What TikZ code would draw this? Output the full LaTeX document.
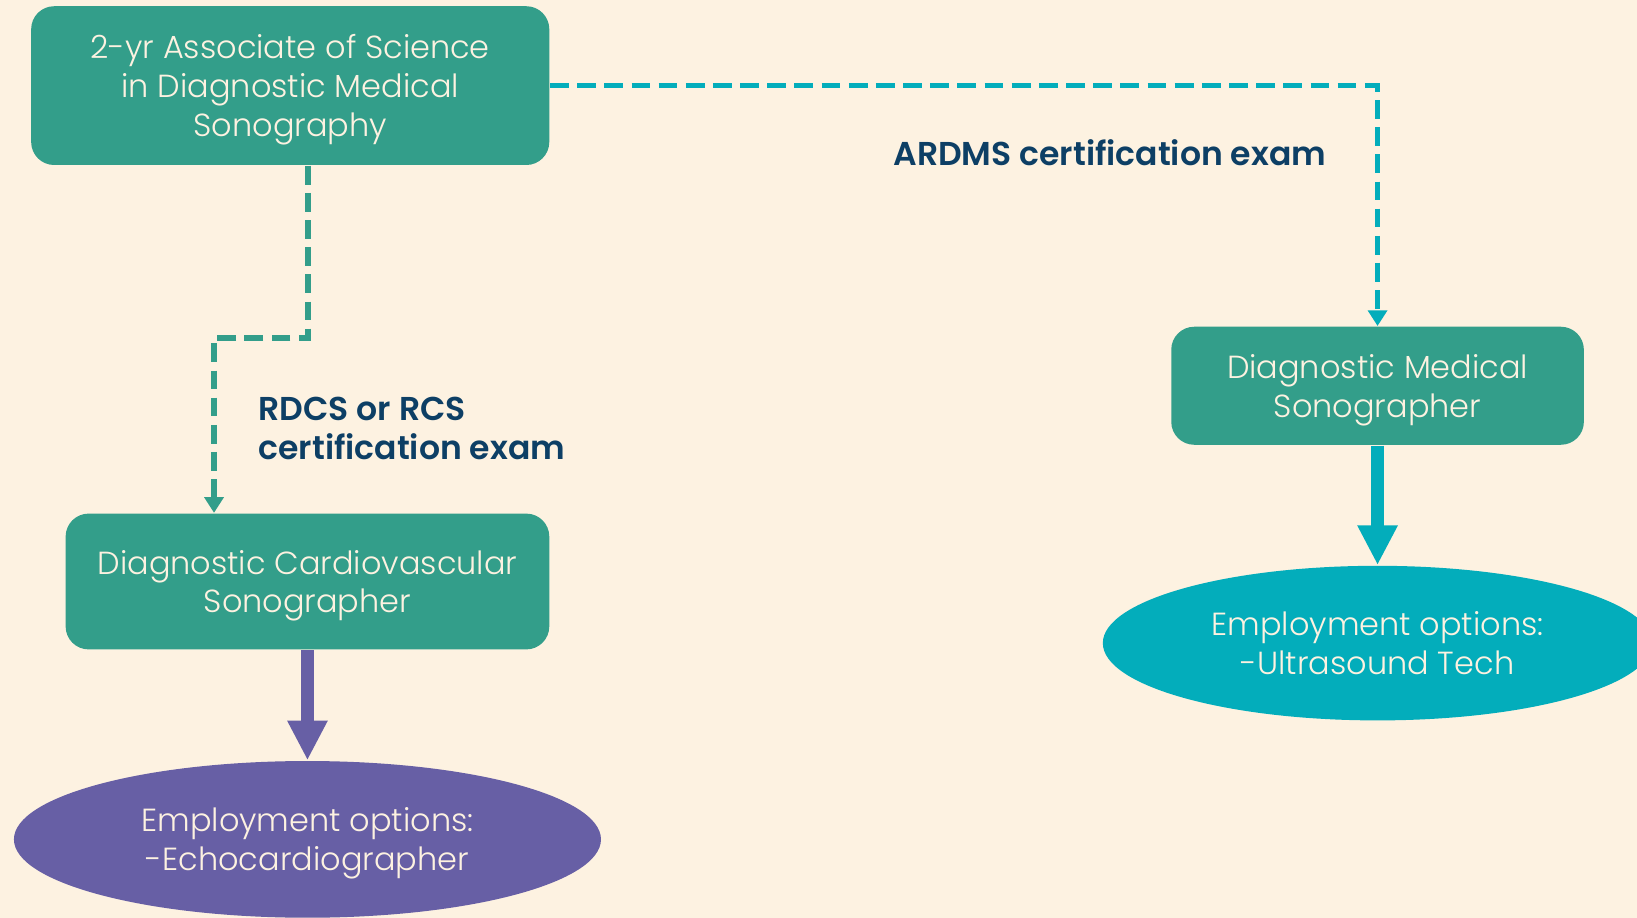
\documentclass[tikz,border=0pt]{standalone}
\usepackage{fontspec}
\setmainfont{Poppins}[UprightFont=* Light, BoldFont=* SemiBold]
\usetikzlibrary{shapes.geometric,arrows.meta}
\definecolor{cream}{HTML}{FDF2E1}
\definecolor{sonoteal}{HTML}{339E8A}
\definecolor{sonocyan}{HTML}{03ADBB}
\definecolor{sonopurple}{HTML}{675FA5}
\definecolor{examblue}{HTML}{0D3F65}

\begin{document}
\begin{tikzpicture}[x=0.01cm, y=-0.01cm,
    degree/.style ={rectangle, rounded corners=2.2mm, fill=sonoteal, text=cream, align=center, inner sep=0pt, text depth=0pt, font=\fontsize{8.7}{10.6}\selectfont},
    job/.style ={ellipse, fill=#1, text=cream, align=center, inner sep=0pt, font=\fontsize{8.7}{10.6}\selectfont},
    exam/.style ={text=examblue, align=left, inner sep=0pt, font=\bfseries\fontsize{9}{10.6}\selectfont},
    exampath/.style ={line width=0.55mm, dash pattern=on 1.8mm off 0.8mm, -{Triangle[width=1.8mm,length=1.5mm]}},
    lead/.style ={line width=1.3mm, -{Triangle[width=3.6mm,length=3.8mm]}}]
   \clip (0,0) rectangle (1568,879);
   \fill[cream] (0,0) rectangle (1568,879);
   % boxes
   \node[degree, minimum width=4.96cm, minimum height=1.52cm] (assoc) at (278,82) {2-yr Associate of Science\\in Diagnostic Medical\\Sonography};
   \node[degree, minimum width=4.63cm, minimum height=1.30cm] (cardio) at (294.5,557) {Diagnostic Cardiovascular\\Sonographer};
   \node[degree, minimum width=3.95cm, minimum height=1.13cm] (dms) at (1319.5,369.5) {Diagnostic Medical\\Sonographer};
   \node[job=sonopurple, minimum width=5.62cm, minimum height=1.50cm, text depth=0pt] (echo) at (294.5,804) {Employment options:\\-Echocardiographer};
   \node[job=sonocyan, minimum width=5.26cm, minimum height=1.48cm] (ultra) at (1319.5,616) {Employment options:\\-Ultrasound Tech};
   % exam labels
   \node[exam, anchor=west] (rdcs) at (247,410) {RDCS or RCS\\certification exam};
   \node[exam] (ardms) at (1063,146) {ARDMS certification exam};
   % connectors
   \coordinate (elbow) at (205,324);
   \draw[exampath, sonoteal] ([xshift=1.7mm]assoc.south) |- (elbow) -- (elbow |- cardio.north);
   \draw[exampath, sonocyan] (assoc.east) -| (dms.north);
   \draw[lead, sonopurple] (cardio.south) -- (echo.north);
   \draw[lead, sonocyan] (dms.south) -- (ultra.north);
\end{tikzpicture}
\end{document}
